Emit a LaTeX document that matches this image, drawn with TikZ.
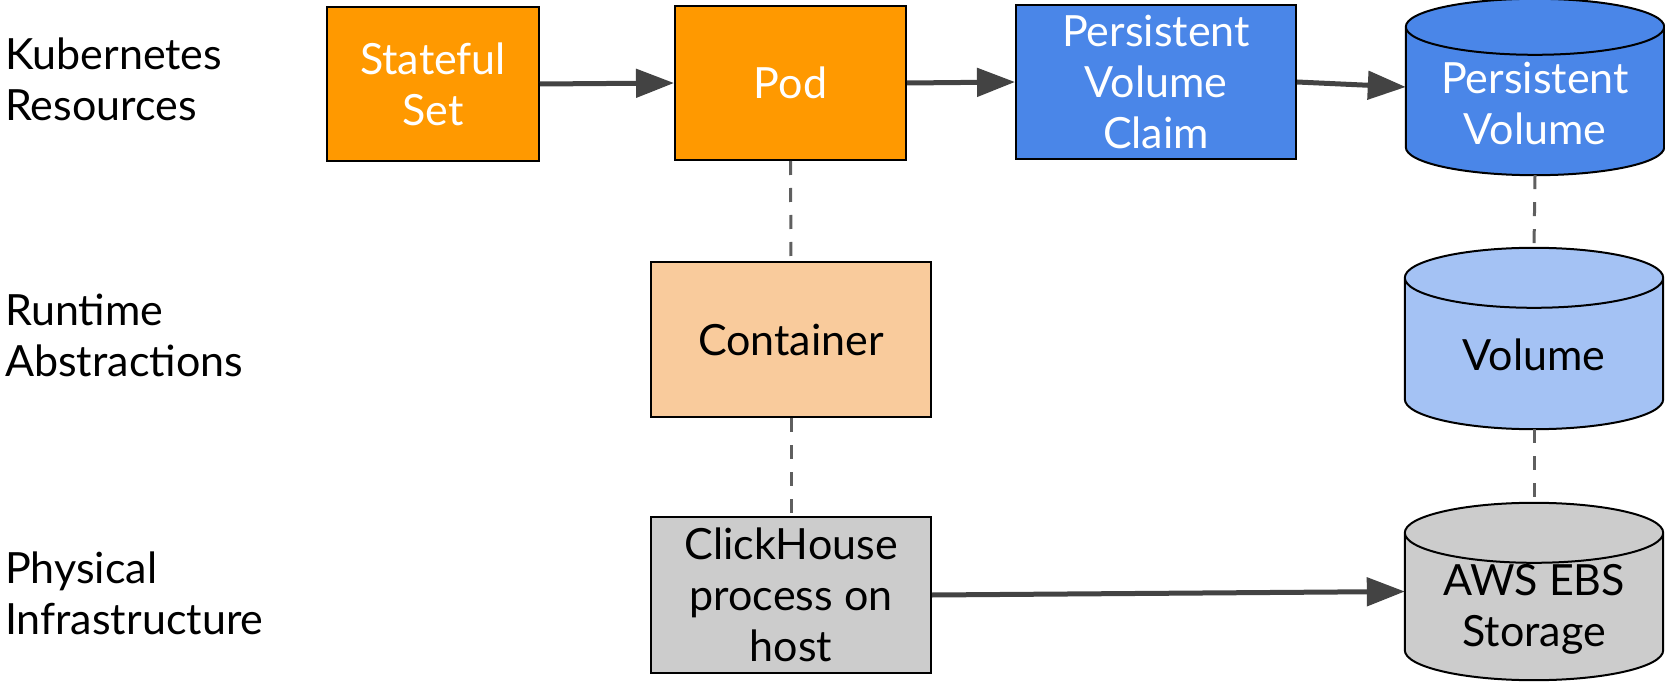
\documentclass[tikz,border=0pt]{standalone}
\usepackage{fontspec}
\setmainfont{Lato}
\usetikzlibrary{arrows.meta,calc}

\definecolor{k8sorange}{HTML}{FF9900}
\definecolor{k8sblue}{HTML}{4A86E8}
\definecolor{paleorange}{HTML}{F9CB9C}
\definecolor{paleblue}{HTML}{A4C2F4}
\definecolor{hostgray}{HTML}{CCCCCC}
\definecolor{arrowgray}{HTML}{434343}
\definecolor{dashgray}{HTML}{5F5F5F}

\tikzset{
  lbl/.style={font=\fontsize{43}{51}\selectfont},
  box/.style={lbl, rectangle, draw=black, line width=2pt, inner sep=0pt, align=center},
  cylbody/.style={rectangle, draw=none, inner sep=0pt},
  cyltext/.style={lbl, align=center, inner sep=0pt},
  rowlabel/.style={lbl, anchor=west, align=left, inner sep=0pt},
  flow/.style={draw=arrowgray, line width=5pt, -{Triangle[length=38pt,width=28pt]}},
  link/.style={draw=dashgray, line width=3pt, dash pattern=on 14pt off 13pt},
}

% vertical cylinder filling the bounding box of node #1, fill #2, cap radius #3 (pt)
\newcommand\drawcyl[3]{%
  \path let \p1=(#1.north west), \p2=(#1.south east),
            \n1={(\x2-\x1)/2} in
    [draw=black, line width=2pt, fill=#2]
    (\x1,\y1-#3pt) -- (\x1,\y2+#3pt)
    arc[start angle=180, end angle=360, x radius=\n1, y radius=#3pt]
    -- (\x2,\y1-#3pt)
    arc[start angle=0, end angle=180, x radius=\n1, y radius=#3pt] -- cycle
    (\x1,\y1-#3pt)
    arc[start angle=180, end angle=360, x radius=\n1, y radius=#3pt];
}

\begin{document}
\begin{tikzpicture}[x=1pt,y=1pt]
\useasboundingbox (0,0) rectangle (1665,681);

% row titles
\node[rowlabel] (rk8s) at (5,602) {Kubernetes\\Resources};
\node[rowlabel] (rrun) at (5,346) {Runtime\\Abstractions};
\node[rowlabel] (rphy) at (5,88) {Physical\\Infrastructure};

% Kubernetes resources
\node[box, fill=k8sorange, text=white, minimum width=212pt, minimum height=154pt]
  (ss) at (433,597) {Stateful\\Set};
\node[box, fill=k8sorange, text=white, minimum width=231pt, minimum height=154pt]
  (pod) at (790.5,598) {Pod};
\node[box, fill=k8sblue, text=white, minimum width=280pt, minimum height=154pt]
  (pvc) at (1156,599) {Persistent\\Volume\\Claim};
\node[cylbody, minimum width=258pt, minimum height=176pt] (pv) at (1535,594) {};
\drawcyl{pv}{k8sblue}{28}
\node[cyltext, text=white] (pvlabel) at ([yshift=-16pt]pv.center) {Persistent\\Volume};

% runtime abstractions
\node[box, fill=paleorange, minimum width=280pt, minimum height=155pt]
  (cont) at (791,341.5) {Container};
\node[cylbody, minimum width=258pt, minimum height=181pt] (vol) at (1534,342.5) {};
\drawcyl{vol}{paleblue}{30}
\node[cyltext] (vollabel) at ([yshift=-16pt]vol.center) {Volume};

% physical infrastructure
\node[box, fill=hostgray, minimum width=280pt, minimum height=156pt]
  (ch) at (791,86) {ClickHouse\\process on\\host};
\node[cylbody, minimum width=258pt, minimum height=177pt] (ebs) at (1534,89.5) {};
\drawcyl{ebs}{hostgray}{30}
\node[cyltext] (ebslabel) at ([yshift=-18pt]ebs.center) {AWS EBS\\Storage};

% layer links
\draw[link] (pod.south) -- (cont.north);
\draw[link] (cont.south) -- (ch.north);
\draw[link] (pv.south) -- (vol.north);
\draw[link] (vol.south) -- (ebs.north);

% references
\draw[flow] (ss.east) -- (pod.west);
\draw[flow] (pod.east) -- (pvc.west);
\draw[flow] (pvc.east) -- (pv.west);
\draw[flow] (ch.east) -- (ebs.west);
\end{tikzpicture}
\end{document}
